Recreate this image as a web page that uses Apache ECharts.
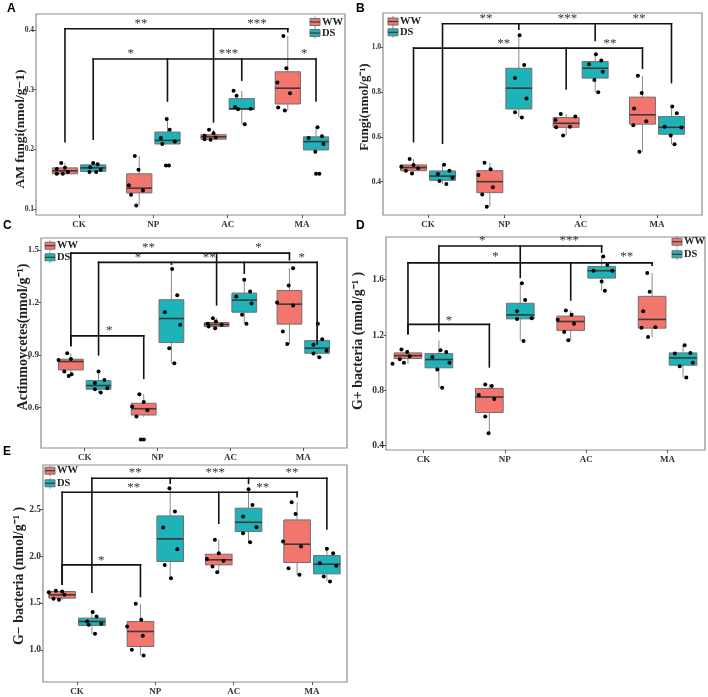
<!DOCTYPE html>
<html>
<head>
<meta charset="utf-8">
<script src="https://cdn.jsdelivr.net/npm/echarts@6/dist/echarts.min.js"></script>
<style>html,body{margin:0;padding:0;background:#fff}#c{width:708px;height:697px}</style>
</head>
<body>
<div id="c"></div>
<script>
// ---------- shared ----------
const categories = ['CK', 'NP', 'AC', 'MA'];
const groups = ['WW', 'DS'];

// ---------- Panel A : AM fungi ----------
const aTicks = [0.1, 0.2, 0.3, 0.4];
const aBoxWW = [[0.158,0.159,0.164,0.169,0.177],[0.106,0.127,0.135,0.159,0.189],[0.216,0.217,0.221,0.2245,0.233],[0.265,0.276,0.3025,0.330,0.390]];
const aBoxDS = [[0.162,0.163,0.169,0.174,0.178],[0.209,0.209,0.215,0.229,0.251],[0.242,0.267,0.268,0.285,0.298],[0.196,0.199,0.213,0.221,0.237]];
const aPtsWW = [
  [[-0.11,0.167],[-0.05,0.177],[0,0.169],[-0.11,0.159],[-0.03,0.159],[0.04,0.162]],
  [[-0.06,0.189],[-0.01,0.166],[-0.14,0.140],[-0.11,0.124],[0.05,0.131],[-0.04,0.106]],
  [[-0.06,0.233],[0,0.227],[-0.12,0.223],[0.03,0.220],[-0.12,0.217],[-0.04,0.216]],
  [[-0.06,0.390],[-0.02,0.336],[-0.14,0.312],[0.03,0.294],[-0.13,0.270],[-0.04,0.265]]];
const aPtsDS = [
  [[0,0.177],[-0.04,0.170],[0.06,0.175],[-0.05,0.162],[0.04,0.162],[0.1,0.166]],
  [[-0.01,0.251],[0.03,0.233],[-0.09,0.219],[-0.07,0.209],[0.1,0.213],[-0.02,0.173],[0.02,0.173]],
  [[-0.11,0.298],[-0.07,0.290],[-0.09,0.271],[-0.05,0.267],[0.04,0.242],[0.12,0.268]],
  [[0.02,0.237],[-0.1,0.219],[0.08,0.222],[0.1,0.209],[-0.01,0.196],[0.0,0.159],[0.045,0.159]]];
const aBrackets = [
  [0.402, [[0,0,0.213],[2,0,0.246],[3,0,0.397]]],
  [0.3515, [[0,1,0.217],[1,1,0.281],[2,1,0.316],[3,1,0.281]]]];
const aStars = [[1.833,0.411,'**'],[3.396,0.411,'***'],[1.697,0.361,'*'],[3.01,0.361,'***'],[4.03,0.361,'*']];

// ---------- Panel B : Fungi ----------
const bTicks = [0.4, 0.6, 0.8, 1.0];
const bBoxWW = [[0.437,0.449,0.463,0.475,0.501],[0.288,0.351,0.400,0.449,0.485],[0.606,0.643,0.661,0.687,0.703],[0.534,0.657,0.699,0.778,0.873]];
const bBoxDS = [[0.390,0.406,0.425,0.448,0.476],[0.687,0.725,0.818,0.907,1.054],[0.800,0.863,0.907,0.937,0.970],[0.567,0.612,0.643,0.691,0.736]];
const bPtsWW = [
  [[-0.05,0.501],[0,0.475],[-0.16,0.467],[-0.1,0.449],[-0.02,0.437],[0.06,0.460]],
  [[-0.07,0.485],[0.01,0.455],[-0.15,0.430],[0.04,0.375],[-0.1,0.343],[-0.04,0.288]],
  [[-0.07,0.703],[-0.14,0.676],[0.12,0.691],[-0.13,0.643],[0.05,0.646],[-0.04,0.606]],
  [[-0.06,0.873],[-0.01,0.796],[-0.11,0.727],[0.05,0.670],[-0.12,0.652],[-0.04,0.534]]];
const bPtsDS = [
  [[0.02,0.476],[-0.06,0.434],[0.09,0.449],[-0.04,0.403],[0.13,0.418],[0.05,0.390]],
  [[0.01,1.054],[0.07,0.922],[-0.05,0.863],[0.1,0.772],[-0.05,0.710],[0.04,0.687]],
  [[0.01,0.970],[-0.08,0.925],[0.08,0.942],[0.1,0.891],[-0.01,0.855],[0.04,0.800]],
  [[0.01,0.736],[0.07,0.706],[-0.09,0.646],[0.13,0.642],[-0.01,0.606],[0.04,0.567]]];
const bBrackets = [
  [1.106, [[0,1,0.572],[1,1,1.082],[2,1,1.031],[3,1,0.843]]],
  [0.997, [[0,0,0.579],[2,0,0.815],[3,0,0.907]]]];
const bStars = [[1.761,1.127,'**'],[2.827,1.127,'***'],[3.765,1.127,'**'],[1.993,1.019,'**'],[3.384,1.019,'**']];

// ---------- Panel C : Actinomycetes ----------
const cTicks = [0.6, 0.9, 1.2, 1.5];
const cBoxWW = [[0.781,0.815,0.863,0.876,0.910],[0.549,0.558,0.594,0.625,0.676],[1.053,1.062,1.074,1.085,1.110],[0.963,1.076,1.190,1.268,1.395]];
const cBoxDS = [[0.686,0.705,0.726,0.754,0.806],[0.853,0.971,1.108,1.215,1.390],[1.078,1.144,1.213,1.253,1.329],[0.887,0.910,0.939,0.982,1.078]];
const cPtsWW = [
  [[-0.05,0.910],[0,0.878],[-0.17,0.872],[-0.09,0.806],[0.01,0.790],[-0.03,0.781]],
  [[-0.06,0.676],[0,0.632],[-0.16,0.606],[0.05,0.585],[-0.1,0.549],[-0.04,0.419],[0.0,0.419]],
  [[-0.05,1.110],[-0.01,1.091],[-0.12,1.078],[0.07,1.072],[-0.11,1.062],[-0.02,1.053]],
  [[0.05,1.395],[-0.01,1.296],[-0.17,1.200],[0.05,1.182],[-0.09,1.034],[-0.03,0.963]]];
const cPtsDS = [
  [[0,0.806],[-0.05,0.741],[0.08,0.758],[-0.05,0.705],[0.03,0.686],[0.12,0.711]],
  [[0.01,1.390],[0.08,1.240],[-0.09,1.144],[0.12,1.072],[-0.03,0.939],[0.04,0.853]],
  [[0,1.329],[0.08,1.262],[-0.11,1.234],[0.1,1.194],[-0.03,1.129],[0.03,1.078]],
  [[0.01,1.078],[0.07,0.990],[-0.05,0.958],[0.13,0.925],[-0.05,0.908],[0.03,0.887]]];
const cBrackets = [
  [1.481, [[0,0,0.954],[2,0,1.186],[3,0,1.443]]],
  [1.428, [[0,1,0.901],[1,1,1.418],[2,1,1.367],[3,1,0.963]]],
  [1.009, [[0,0,0.954],[1,0,0.767]]]];
const cStars = [[1.876,1.513,'**'],[3.385,1.513,'*'],[1.73,1.456,'*'],[2.709,1.456,'**'],[3.98,1.456,'*'],[1.337,1.038,'*']];

// ---------- Panel D : G+ bacteria ----------
const dTicks = [0.4, 0.8, 1.2, 1.6];
const dBoxWW = [[0.992,1.030,1.051,1.071,1.095],[0.491,0.640,0.752,0.814,0.843],[1.162,1.234,1.298,1.337,1.377],[1.186,1.250,1.313,1.480,1.648]];
const dBoxDS = [[0.819,0.963,1.023,1.066,1.162],[1.157,1.317,1.346,1.430,1.574],[1.521,1.612,1.665,1.696,1.768],[0.893,0.982,1.035,1.071,1.126]];
const dPtsWW = [
  [[-0.08,1.095],[-0.01,1.078],[-0.1,1.025],[0.02,1.047],[-0.05,0.999],[-0.19,0.992]],
  [[-0.05,0.843],[0.03,0.831],[-0.13,0.767],[0.06,0.738],[-0.05,0.611],[-0.01,0.491]],
  [[-0.06,1.377],[0.01,1.346],[-0.16,1.310],[0.04,1.281],[-0.08,1.222],[-0.03,1.162]],
  [[-0.06,1.648],[-0.03,1.514],[-0.11,1.372],[0.04,1.257],[-0.13,1.252],[-0.05,1.186]]];
const dPtsDS = [
  [[0.02,1.090],[0.09,1.078],[-0.08,1.042],[0.13,0.999],[-0.02,0.951],[0.04,0.819]],
  [[0.02,1.574],[0.06,1.454],[-0.04,1.372],[0.14,1.322],[-0.04,1.317],[0.04,1.157]],
  [[0.02,1.768],[0.07,1.708],[-0.1,1.665],[0.13,1.665],[0,1.588],[0.04,1.521]],
  [[0.02,1.126],[-0.1,1.066],[0.09,1.071],[-0.04,0.975],[0.12,0.999],[0.04,0.893]]];
const dBrackets = [
  [1.844, [[0,1,1.229],[1,1,1.617],[2,1,1.800]]],
  [1.722, [[0,0,1.210],[2,0,1.454],[3,0,1.705]]],
  [1.277, [[0,0,1.210],[1,0,0.970]]]];
const dStars = [[1.722,1.880,'*'],[2.792,1.880,'***'],[1.886,1.765,'*'],[3.497,1.765,'**'],[1.315,1.305,'*']];

// ---------- Panel E : G- bacteria ----------
const eTicks = [1.0, 1.5, 2.0, 2.5];
const eBoxWW = [[1.533,1.551,1.586,1.622,1.629],[0.940,1.035,1.195,1.302,1.490],[1.828,1.906,1.960,2.020,2.173],[1.800,1.931,2.127,2.386,2.575]];
const eBoxDS = [[1.170,1.259,1.302,1.338,1.402],[1.764,1.942,2.184,2.429,2.724],[2.148,2.262,2.361,2.511,2.713],[1.729,1.810,1.913,2.006,2.077]];
const ePtsWW = [
  [[-0.17,1.615],[-0.08,1.629],[0,1.622],[-0.11,1.544],[-0.04,1.533],[0.03,1.586]],
  [[-0.06,1.490],[0.01,1.320],[-0.17,1.249],[0.03,1.149],[-0.11,1.000],[0.04,0.940]],
  [[-0.05,2.173],[0,2.031],[-0.15,1.970],[0.06,1.949],[-0.08,1.889],[-0.02,1.828]],
  [[-0.07,2.575],[-0.02,2.450],[-0.18,2.155],[0.05,2.102],[-0.11,1.871],[0.03,1.800]]];
const ePtsDS = [
  [[0.01,1.402],[0.06,1.355],[-0.06,1.302],[0.12,1.277],[-0.04,1.266],[0.04,1.170]],
  [[-0.01,2.724],[0.06,2.475],[-0.09,2.304],[0.09,2.073],[-0.07,1.906],[0.01,1.764]],
  [[0,2.713],[0.05,2.546],[-0.07,2.422],[0.1,2.308],[-0.07,2.244],[0.02,2.148]],
  [[0,2.077],[0.08,2.031],[-0.09,1.924],[0.12,1.896],[-0.04,1.782],[0.04,1.729]]];
const eBrackets = [
  [2.831, [[0,1,1.615],[1,1,2.777],[2,1,2.777],[3,1,2.290]]],
  [2.681, [[0,0,1.700],[2,0,2.351],[3,0,2.635]]],
  [1.906, [[0,0,1.700],[1,0,1.568]]]];
const eStars = [[1.745,2.891,'**'],[2.766,2.891,'***'],[3.746,2.891,'**'],[1.723,2.731,'**'],[3.371,2.731,'**'],[1.31,1.949,'*']];

// ---------- styling / layout ----------
const COLORS = { WW: '#F2766E', DS: '#1DB3B8' };
const DODGE = 0.19, BOX_W = 0.34;
const SERIF = '"Liberation Serif","Times New Roman",serif';

const panels = [
  { key:'A', title:'AM fungi(nmol/g\u22121)', box:[36,14,309,201], xr:[0.42,4.58], yr:[0.090,0.4268], ticks:aTicks, tickFs:7.5, xFs:9,
    bww:aBoxWW, bds:aBoxDS, pww:aPtsWW, pds:aPtsDS, br:aBrackets, st:aStars,
    label:[7,3], titlePos:[21,129], titleFs:13.5, legend:[315,22,11] },
  { key:'B', title:'Fungi(nmol/g\u207B\u00B9)', box:[383,13,319,202], xr:[0.41,4.59], yr:[0.251,1.154], ticks:bTicks, tickFs:7.5, xFs:9,
    bww:bBoxWW, bds:bBoxDS, pww:bPtsWW, pds:bPtsDS, br:bBrackets, st:bStars,
    label:[356,3], titlePos:[365,107], titleFs:13, legend:[393,21.5,10.8] },
  { key:'C', title:'Actinmoycetes(nmol/g\u207B\u00B9)', box:[41,238,306,210], xr:[0.4,4.6], yr:[0.370,1.567], ticks:cTicks, tickFs:9, xFs:9,
    bww:cBoxWW, bds:cBoxDS, pww:cPtsWW, pds:cPtsDS, br:cBrackets, st:cStars,
    label:[3,220], titlePos:[23,337], titleFs:14, legend:[50,245.7,11.6] },
  { key:'D', title:'G+ bacteria (nmol/g\u207B\u00B9 )', box:[386,237,319,213], xr:[0.54,4.46], yr:[0.369,1.909], ticks:dTicks, tickFs:9.5, xFs:9,
    bww:dBoxWW, bds:dBoxDS, pww:dPtsWW, pds:dPtsDS, br:dBrackets, st:dStars,
    label:[356,220], titlePos:[358,341], titleFs:14, legend:[677,241.7,12.6] },
  { key:'E', title:'G\u2212 bacteria (nmol/g\u207B\u00B9 )', box:[43,465,304,217], xr:[0.566,4.447], yr:[0.656,2.972], ticks:eTicks, tickFs:9.5, xFs:9,
    bww:eBoxWW, bds:eBoxDS, pww:ePtsWW, pds:ePtsDS, br:eBrackets, st:eStars,
    label:[3,446], titlePos:[19,576], titleFs:14, legend:[50,470.7,12.6] }
];

function groupX(cat, g) { return cat + 1 + (g === 0 ? -DODGE : DODGE); }

function boxRender(params, api) {
  const x = api.value(0);
  const mn = api.value(1), q1 = api.value(2), md = api.value(3), q3 = api.value(4), mx = api.value(5);
  const w = api.size([BOX_W, 0])[0];
  const pT = api.coord([x, q3]), pB = api.coord([x, q1]);
  const cx = pT[0];
  const yMax = api.coord([x, mx])[1], yMin = api.coord([x, mn])[1], yMed = api.coord([x, md])[1];
  const color = api.visual('color');
  return { type:'group', children:[
    { type:'line', shape:{x1:cx,y1:yMax,x2:cx,y2:pT[1]}, style:{stroke:'#8a8a8a', lineWidth:1} },
    { type:'line', shape:{x1:cx,y1:pB[1],x2:cx,y2:yMin}, style:{stroke:'#8a8a8a', lineWidth:1} },
    { type:'rect', shape:{x:cx-w/2, y:pT[1], width:w, height:Math.max(pB[1]-pT[1],1)}, style:{fill:color, stroke:'#707070', lineWidth:1} },
    { type:'line', shape:{x1:cx-w/2,y1:yMed,x2:cx+w/2,y2:yMed}, style:{stroke:'#3a3a3a', lineWidth:1.6} }
  ]};
}
function segRender(params, api) {
  const a = api.coord([api.value(0), api.value(1)]);
  const b = api.coord([api.value(2), api.value(3)]);
  return { type:'line', shape:{x1:a[0],y1:a[1],x2:b[0],y2:b[1]}, style:{stroke:'#111', lineWidth:1.6, lineCap:'square'} };
}

const option = { animation:false, backgroundColor:'#fff', grid:[], xAxis:[], yAxis:[], series:[], graphic:[] };

panels.forEach((p, i) => {
  option.grid.push({ left:p.box[0], top:p.box[1], width:p.box[2], height:p.box[3], show:true,
    borderColor:'#8c8c8c', borderWidth:1.2, backgroundColor:'#fff' });
  option.xAxis.push({ type:'value', gridIndex:i, min:p.xr[0], max:p.xr[1],
    axisLine:{show:false}, splitLine:{show:false},
    axisTick:{show:true, customValues:[1,2,3,4], length:3, lineStyle:{color:'#555'}},
    axisLabel:{customValues:[1,2,3,4], formatter:v => categories[Math.round(v)-1] || '', fontFamily:SERIF,
      fontWeight:'bold', fontSize:p.xFs, color:'#333', margin:5} });
  option.yAxis.push({ type:'value', gridIndex:i, min:p.yr[0], max:p.yr[1],
    axisLine:{show:false}, splitLine:{show:false},
    axisTick:{show:true, customValues:p.ticks, length:2.5, lineStyle:{color:'#555'}},
    axisLabel:{customValues:p.ticks, formatter:v => v.toFixed(1), fontFamily:SERIF, fontWeight:'bold',
      fontSize:p.tickFs, color:'#333', margin:2} });

  // boxes
  [p.bww, p.bds].forEach((arr, g) => {
    option.series.push({ type:'custom', name:groups[g], xAxisIndex:i, yAxisIndex:i, z:2,
      itemStyle:{color:COLORS[groups[g]]}, renderItem:boxRender,
      encode:{x:0, y:[1,2,3,4,5]},
      data: arr.map((s, c) => [groupX(c, g)].concat(s)) });
  });
  // points
  [p.pww, p.pds].forEach((arr, g) => {
    const data = [];
    arr.forEach((pts, c) => pts.forEach(pt => data.push([groupX(c, g) + pt[0], pt[1]])));
    option.series.push({ type:'scatter', xAxisIndex:i, yAxisIndex:i, z:3, symbolSize:4,
      itemStyle:{color:'#000', opacity:1}, data });
  });
  // brackets
  const segs = [];
  p.br.forEach(b => {
    const level = b[0];
    const xs = b[1].map(d => groupX(d[0], d[1]));
    segs.push([Math.min(...xs), level, Math.max(...xs), level]);
    b[1].forEach((d, k) => segs.push([xs[k], level, xs[k], d[2]]));
  });
  option.series.push({ type:'custom', xAxisIndex:i, yAxisIndex:i, z:4, renderItem:segRender,
    encode:{x:[0,2], y:[1,3]}, data:segs });
  // stars
  const stars = p.st;
  option.series.push({ type:'custom', xAxisIndex:i, yAxisIndex:i, z:5,
    encode:{x:0, y:1}, data:stars.map(s => [s[0], s[1]]),
    renderItem:(params, api) => {
      const c = api.coord([api.value(0), api.value(1)]);
      return { type:'text', x:c[0], y:c[1], style:{ text:stars[params.dataIndex][2], fontSize:13,
        fontFamily:SERIF, fill:'#333', align:'center', verticalAlign:'middle' } };
    } });

  // panel letter
  option.graphic.push({ type:'text', left:p.label[0], top:p.label[1],
    style:{ text:p.key, font:'bold 12px "Liberation Sans", Arial, sans-serif', fill:'#000' } });
  // y axis title
  option.graphic.push({ type:'text', x:p.titlePos[0], y:p.titlePos[1], rotation:Math.PI/2,
    style:{ text:p.title, fontFamily:SERIF, fontWeight:'bold', fontSize:p.titleFs, fill:'#222',
      align:'center', verticalAlign:'middle' } });
  // legend
  const [lx, ly, lgap] = p.legend;
  groups.forEach((g, k) => {
    const cy = ly + k * lgap;
    option.graphic.push({ type:'group', children:[
      { type:'line', shape:{x1:lx, y1:cy-5.5, x2:lx, y2:cy+5.5}, style:{stroke:'#8a8a8a', lineWidth:1} },
      { type:'rect', shape:{x:lx-5, y:cy-3.5, width:10, height:7}, style:{fill:COLORS[g], stroke:'#707070', lineWidth:1} },
      { type:'line', shape:{x1:lx-5, y1:cy, x2:lx+5, y2:cy}, style:{stroke:'#3a3a3a', lineWidth:1.2} },
      { type:'text', x:lx+7, y:cy, style:{ text:g, fontFamily:SERIF, fontWeight:'bold', fontSize:10.5,
        fill:'#222', align:'left', verticalAlign:'middle' } }
    ]});
  });
});

const chart = echarts.init(document.getElementById('c'), null, { renderer:'canvas' });
chart.setOption(option);
</script>
</body>
</html>
